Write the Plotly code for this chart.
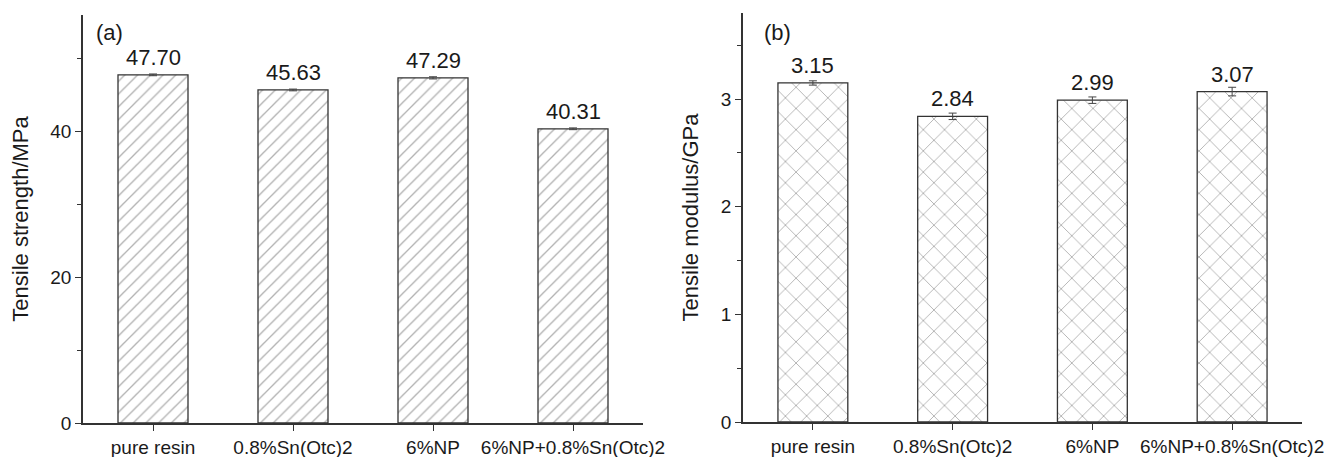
import plotly.graph_objects as go

categories = ["pure resin", "0.8%Sn(Otc)2", "6%NP", "6%NP+0.8%Sn(Otc)2"]
strength = [47.70, 45.63, 47.29, 40.31]
strength_err = [0.12, 0.12, 0.15, 0.12]
modulus = [3.15, 2.84, 2.99, 3.07]
modulus_err = [0.02, 0.03, 0.03, 0.04]
strength_labels = ["47.70", "45.63", "47.29", "40.31"]
modulus_labels = ["3.15", "2.84", "2.99", "3.07"]

FONT = "Liberation Sans, Arial, sans-serif"
TXT = "#1a1a1a"
AX = "#333333"
W, H = 1333, 457

fig = go.Figure()

fig.add_trace(go.Bar(
    x=categories, y=strength, width=0.5, xaxis="x", yaxis="y",
    marker=dict(color="white", line=dict(color="#333333", width=1.3),
                pattern=dict(shape="/", fgcolor="#666666", bgcolor="white", size=9, solidity=0.15)),
    error_y=dict(type="data", array=strength_err, visible=True, color="#444444", thickness=1, width=4),
    showlegend=False, hoverinfo="skip"))

fig.add_trace(go.Bar(
    x=categories, y=modulus, width=0.5, xaxis="x2", yaxis="y2",
    marker=dict(color="white", line=dict(color="#333333", width=1.3),
                pattern=dict(shape="x", fgcolor="#666666", bgcolor="white", size=15, solidity=0.12)),
    error_y=dict(type="data", array=modulus_err, visible=True, color="#444444", thickness=1, width=4),
    showlegend=False, hoverinfo="skip"))

annotations = []
for c, v, t in zip(categories, strength, strength_labels):
    annotations.append(dict(x=c, y=v, xref="x", yref="y", text=t, showarrow=False,
                            yanchor="bottom", yshift=3, font=dict(size=22, color=TXT, family=FONT)))
for c, v, t in zip(categories, modulus, modulus_labels):
    annotations.append(dict(x=c, y=v, xref="x2", yref="y2", text=t, showarrow=False,
                            yanchor="bottom", yshift=3, font=dict(size=22, color=TXT, family=FONT)))

annotations.append(dict(x=94 / W, y=1 - 32 / H, xref="paper", yref="paper", text="(a)", showarrow=False,
                        xanchor="left", yanchor="middle", font=dict(size=22, color=TXT, family=FONT)))
annotations.append(dict(x=762 / W, y=1 - 32 / H, xref="paper", yref="paper", text="(b)", showarrow=False,
                        xanchor="left", yanchor="middle", font=dict(size=22, color=TXT, family=FONT)))

xcommon = dict(type="category", range=[-0.5, 3.5], showline=True, linecolor=AX, linewidth=1.5,
               ticks="outside", ticklen=6, tickwidth=1.3, tickcolor=AX, showgrid=False, zeroline=False,
               automargin=False, tickfont=dict(size=19, color=TXT, family=FONT))
ycommon = dict(showline=True, linecolor=AX, linewidth=1.5, ticks="outside", ticklen=6, tickwidth=1.3,
               tickcolor=AX, showgrid=False, zeroline=False, automargin=False,
               tickfont=dict(size=19, color=TXT, family=FONT))

fig.update_layout(
    width=W, height=H, margin=dict(l=0, r=0, t=0, b=0),
    plot_bgcolor="white", paper_bgcolor="white", bargap=0.5,
    xaxis=dict(domain=[83 / W, 643 / W], anchor="y", **xcommon),
    yaxis=dict(domain=[1 - 423 / H, 1 - 15 / H], anchor="x", range=[0, 55.9], tickmode="array",
               tickvals=[0, 20, 40], minor=dict(tickvals=[10, 30, 50], ticks="outside", ticklen=4,
                                                 tickcolor=AX, tickwidth=1.3),
               title=dict(text="Tensile strength/MPa", font=dict(size=22, color=TXT, family=FONT), standoff=16),
               **ycommon),
    xaxis2=dict(domain=[743 / W, 1302 / W], anchor="y2", **xcommon),
    yaxis2=dict(domain=[1 - 422 / H, 1 - 13 / H], anchor="x2", range=[0, 3.8], tickmode="array",
                tickvals=[0, 1, 2, 3], minor=dict(tickvals=[0.5, 1.5, 2.5, 3.5], ticks="outside", ticklen=4,
                                                   tickcolor=AX, tickwidth=1.3),
                title=dict(text="Tensile modulus/GPa", font=dict(size=22, color=TXT, family=FONT), standoff=16),
                **ycommon),
    annotations=annotations,
)

fig.write_html("out.html")
